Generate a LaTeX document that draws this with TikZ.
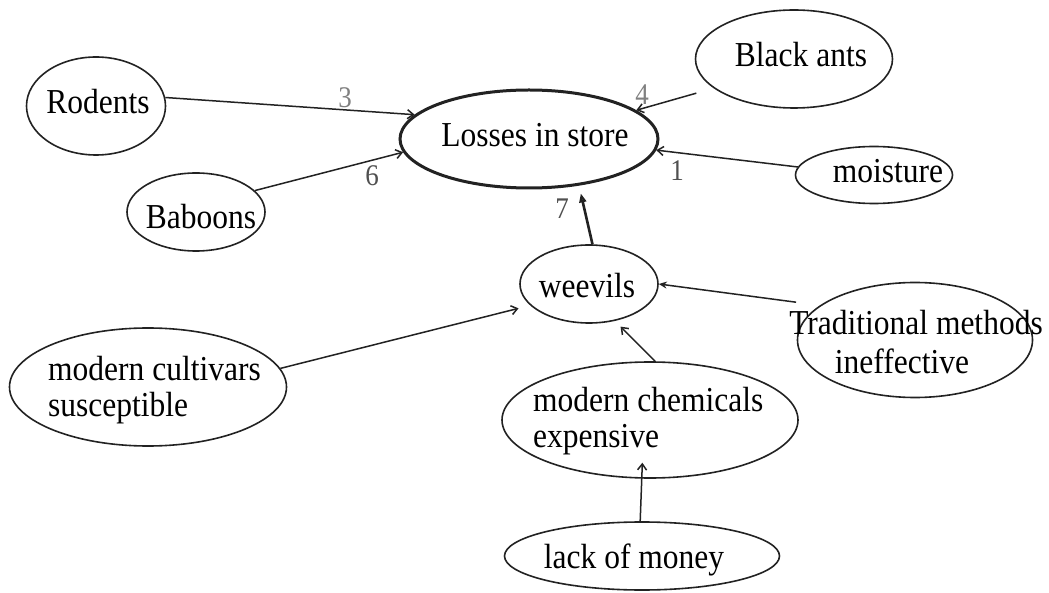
\documentclass[tikz,border=0pt]{standalone}
\usepackage{fontspec}
\setmainfont[FakeStretch=0.9]{Liberation Serif}
\usetikzlibrary{shapes.geometric,arrows.meta}
\definecolor{ink}{HTML}{222222}
\definecolor{numgray}{HTML}{808080}
\definecolor{numdark}{HTML}{505050}
\begin{document}
\begin{tikzpicture}[x=1pt,y=-1pt,
  bub/.style={ellipse, draw=ink, line width=1.6pt, inner sep=0pt},
  txt/.style={font=\fontsize{35}{36}\selectfont, inner sep=0pt, align=left},
  link/.style={draw=ink, line width=1.5pt, -{Straight Barb[length=6pt,width=9pt]}},
  num/.style={font=\fontsize{30}{30}\selectfont, inner sep=0pt}]
\fill[white] (0,0) rectangle (1049,593);
\useasboundingbox (0,0) rectangle (1049,593);

% ellipses
\node[bub, minimum width=139, minimum height=98] (rod) at (96,106) {};
\node[bub, minimum width=138, minimum height=78] (bab) at (196,212) {};
\node[bub, line width=3pt, minimum width=258, minimum height=98] (loss) at (529,139) {};
\node[bub, minimum width=197, minimum height=98] (ants) at (794,59) {};
\node[bub, minimum width=157, minimum height=57] (moist) at (874,175) {};
\node[bub, minimum width=138, minimum height=78] (weev) at (589,284) {};
\node[bub, minimum width=235, minimum height=115] (trad) at (915,340) {};
\node[bub, minimum width=277, minimum height=118] (cult) at (148,387) {};
\node[bub, minimum width=296, minimum height=116] (chem) at (650,420) {};
\node[bub, minimum width=275, minimum height=68] (money) at (642,556) {};

% texts
\node[txt] (rod-t) at (98,102) {Rodents};
\node[txt] (bab-t) at (201,217) {Baboons};
\node[txt] (loss-t) at (535,135) {Losses in store};
\node[txt] (ants-t) at (801,55) {Black ants};
\node[txt] (moist-t) at (888,171) {moisture};
\node[txt] (weev-t) at (587,286) {weevils};
\node[txt] (trad-t1) at (916,323) {Traditional methods};
\node[txt] (trad-t2) at (902,361) {ineffective};
\node[txt, anchor=west] (cult-t) at (48,390) {modern cultivars\\susceptible};
\node[txt, anchor=west] (chem-t) at (533,421) {modern chemicals\\expensive};
\node[txt] (money-t) at (634,560) {lack of money};

% link numbers
\node[num, text=numgray] (n3) at (345,98) {3};
\node[num, text=numgray] (n4) at (642,95) {4};
\node[num, text=numdark] (n6) at (372,176) {6};
\node[num, text=numdark] (n1) at (677,171) {1};
\node[num, text=numdark] (n7) at (562,209) {7};

% connectors
\draw[link] (rod.7) -- (loss.168);
\draw[link] (bab.20) -- (loss.186);
\draw[link, shorten <=18pt] (ants.200) -- (loss.15);
\draw[link] (moist.174) -- (loss.-5);
\draw[link, line width=2.6pt, -{Triangle[open,length=9pt,width=7pt]}, shorten >=8pt] (weev.85) -- (loss.317);
\draw[link, shorten >=12pt] (cult.8) -- (weev.200);
\draw[link, shorten <=24pt, -{Stealth[length=8pt,width=7pt]}] (trad.160) -- (weev.0);
\draw[link, shorten >=8pt] (chem.85) -- (weev.305);
\draw[link, shorten >=-16pt] (money.93) -- (chem.262);
\end{tikzpicture}
\end{document}
